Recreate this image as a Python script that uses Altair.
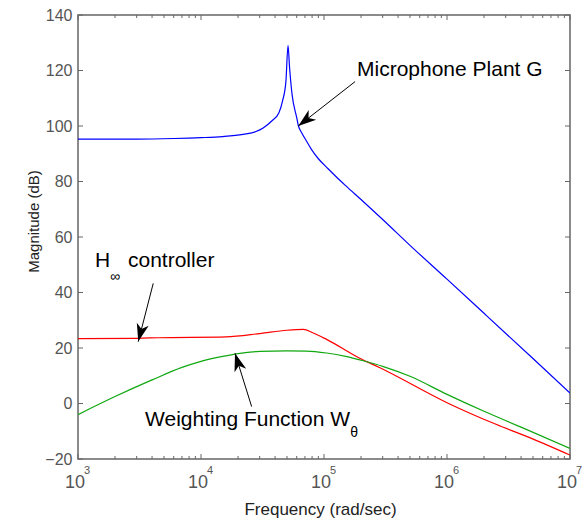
import math
import altair as alt
import pandas as pd

# ---------------- data ----------------
plant_freq = [1e3, 3e3, 6e3, 1e4, 1.5e4, 2.2e4, 2.8e4, 3.2e4, 3.76e4, 4.3e4, 4.6e4,
              4.9e4, 5.1e4, 5.25e4, 5.5e4, 6.0e4, 6.2e4, 6.6e4, 7.2e4, 8.0e4, 9.0e4,
              1.08e5, 1.25e5, 1.5e5, 2e5, 3e5, 5e5, 1e6, 2e6, 5e6, 1e7]
plant_db = [95.3, 95.3, 95.5, 95.8, 96.2, 97.0, 98.0, 99.3, 101.8, 104.8, 109.0,
            116.0, 129.0, 121.0, 111.4, 103.0, 100.0, 97.5, 94.6, 91.2, 88.2,
            84.6, 81.8, 78.5, 73.5, 66.3, 57.0, 44.8, 32.5, 16.2, 3.8]

ctrl_freq = [1e3, 3e3, 4.5e3, 1.6e4, 3e4, 5e4, 6.8e4, 8.1e4, 1.05e5, 1.95e5,
             2.85e5, 1e6, 2.5e6, 4.7e6, 1e7]
ctrl_db = [23.4, 23.5, 23.7, 24.0, 25.2, 26.4, 26.7, 25.5, 23.1, 16.3,
           12.9, 0.3, -7.5, -12.3, -18.6]

wt_freq = [1e3, 2e3, 4e3, 7e3, 1e4, 1.5e4, 2e4, 3e4, 5e4, 7.2e4, 1.05e5, 1.5e5,
           2e5, 3e5, 5e5, 1e6, 2e6, 4e6, 1e7]
wt_db = [-4.0, 2.5, 8.5, 13.0, 15.2, 17.0, 18.0, 18.8, 19.0, 18.9, 18.2, 17.0,
         15.6, 13.4, 9.8, 3.3, -2.8, -8.5, -16.2]

series_names = ["Microphone Plant G", "H-infinity controller", "Weighting Function"]
series_colors = ["#0000FF", "#FF0000", "#10A810"]

x_major = [1e3, 1e4, 1e5, 1e6, 1e7]
x_exponents = ["3", "4", "5", "6", "7"]
x_minor = [m * 10 ** k for k in range(3, 7) for m in range(2, 10)]
y_ticks = list(range(-20, 141, 20))

# arrows: start (f, db) -> tip (f2, db2)
arrow_f = [1.79e5, 4.09e3, 2.58e4]
arrow_db = [116.0, 43.3, -1.1]
arrow_f2 = [6.18e4, 3.09e3, 1.89e4]
arrow_db2 = [100.0, 22.3, 18.1]

# annotation texts
big_text = ["Microphone Plant G", "H", "controller", "Weighting Function W"]
big_f = [1.854e5, 1.375e3, 2.55e3, 3.51e3]
big_db = [118.0, 49.2, 49.2, -8.1]
sub_text = ["\u221e", "\u03b8"]
sub_f = [2.0e3, 1.754e5]
sub_db = [44.1, -12.1]

# ---------------- layout ----------------
W, H = 492, 444
PX_DEC = W / 4.0
PX_DB = H / 160.0
FONT = "Liberation Sans"

lines = pd.DataFrame(
    [{"f": f, "db": d, "s": series_names[0]} for f, d in zip(plant_freq, plant_db)]
    + [{"f": f, "db": d, "s": series_names[1]} for f, d in zip(ctrl_freq, ctrl_db)]
    + [{"f": f, "db": d, "s": series_names[2]} for f, d in zip(wt_freq, wt_db)]
)

xscale = alt.Scale(type="log", domain=[1e3, 1e7], nice=False)
yscale = alt.Scale(domain=[-20, 140], nice=False, zero=False)

x_axis = alt.Axis(labels=False, ticks=False, domain=False, grid=False,
                  title="Frequency  (rad/sec)", titleFont=FONT, titleFontSize=17,
                  titleFontWeight="normal", titleColor="#222222",
                  titleX=242, titleY=55, titleBaseline="alphabetic",
                  titleAnchor="start", titleAlign="center")
y_axis = alt.Axis(values=y_ticks, ticks=False, domain=False, grid=False,
                  labelFont=FONT, labelFontSize=16, labelColor="#555555",
                  labelPadding=6,
                  title="Magnitude (dB)", titleFont=FONT, titleFontSize=15,
                  titleFontWeight="normal", titleColor="#222222",
                  titleAngle=270, titleX=-45, titleY=206,
                  titleBaseline="middle", titleAlign="center", titleAnchor="start")

X = lambda field: alt.X(field, type="quantitative", scale=xscale, axis=x_axis)
Y = lambda field: alt.Y(field, type="quantitative", scale=yscale, axis=y_axis)

line_layer = alt.Chart(lines).mark_line(strokeWidth=1.2, clip=True, interpolate="monotone").encode(
    x=X("f"), y=Y("db"),
    color=alt.Color("s:N", scale=alt.Scale(domain=series_names, range=series_colors), legend=None),
    detail="s:N",
)

# inward ticks
tick_color = "#666666"
maj_df = pd.DataFrame({"f": x_major})
min_df = pd.DataFrame({"f": x_minor})
ytk_df = pd.DataFrame({"db": y_ticks})
tick_layers = [
    alt.Chart(maj_df).mark_rule(color=tick_color, strokeWidth=1).encode(
        x=X("f"), y=alt.value(H), y2=alt.value(H - 5)),
    alt.Chart(maj_df).mark_rule(color=tick_color, strokeWidth=1).encode(
        x=X("f"), y=alt.value(0), y2=alt.value(5)),
    alt.Chart(min_df).mark_rule(color=tick_color, strokeWidth=1).encode(
        x=X("f"), y=alt.value(H), y2=alt.value(H - 3)),
    alt.Chart(min_df).mark_rule(color=tick_color, strokeWidth=1).encode(
        x=X("f"), y=alt.value(0), y2=alt.value(3)),
    alt.Chart(ytk_df).mark_rule(color=tick_color, strokeWidth=1).encode(
        y=Y("db"), x=alt.value(0), x2=alt.value(5)),
    alt.Chart(ytk_df).mark_rule(color=tick_color, strokeWidth=1).encode(
        y=Y("db"), x=alt.value(W), x2=alt.value(W - 5)),
]

# x tick labels 10^n
xl_df = pd.DataFrame({"f": x_major, "base": ["10"] * len(x_major), "exp": x_exponents})
xlab_base = alt.Chart(xl_df).mark_text(font=FONT, fontSize=18, color="#555555",
                                       align="center", baseline="alphabetic", dx=-3).encode(
    x=X("f"), y=alt.value(H + 29), text="base:N")
xlab_exp = alt.Chart(xl_df).mark_text(font=FONT, fontSize=11, color="#555555",
                                      align="center", baseline="alphabetic", dx=9).encode(
    x=X("f"), y=alt.value(H + 15), text="exp:N")

# arrows
ar = pd.DataFrame({"f": arrow_f, "db": arrow_db, "f2": arrow_f2, "db2": arrow_db2})
ar["ang"] = [
    (math.degrees(math.atan2((math.log10(b) - math.log10(a)) * PX_DEC,
                             (d - c) * PX_DB)) + 360) % 360
    for a, b, c, d in zip(ar.f, ar.f2, ar.db, ar.db2)
]
shaft = alt.Chart(ar).mark_rule(color="black", strokeWidth=1).encode(
    x=X("f"), y=Y("db"), x2="f2:Q", y2="db2:Q")
head_path = "M0,0L-0.34,1L0,0.72L0.34,1Z"
head = alt.Chart(ar).mark_point(shape=head_path, filled=True, color="black",
                                opacity=1, size=1296, strokeWidth=0).encode(
    x=X("f2"), y=Y("db2"), angle=alt.Angle("ang:Q", scale=None))

# annotation text
bt = pd.DataFrame({"f": big_f, "db": big_db, "t": big_text})
big = alt.Chart(bt).mark_text(font=FONT, fontSize=21, color="black",
                              align="left", baseline="alphabetic").encode(
    x=X("f"), y=Y("db"), text="t:N")
st = pd.DataFrame({"f": sub_f, "db": sub_db, "t": sub_text})
sub = alt.Chart(st).mark_text(font=FONT, fontSize=14, color="black",
                              align="center", baseline="alphabetic").encode(
    x=X("f"), y=Y("db"), text="t:N")

chart = alt.layer(line_layer, *tick_layers, xlab_base, xlab_exp, shaft, head, big, sub).properties(
    width=W, height=H,
    autosize=alt.AutoSizeParams(type="none"),
    padding={"left": 78, "top": 15, "right": 18, "bottom": 63},
    background="white",
).configure_view(stroke="#666666", strokeWidth=1.5)

chart.save("out.html", embed_options={"renderer": "svg", "actions": False})
